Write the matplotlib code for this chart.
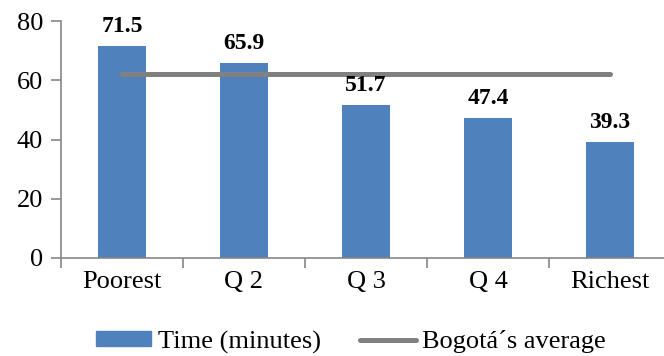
import matplotlib
matplotlib.use("Agg")
import matplotlib.pyplot as plt
from matplotlib.patches import Patch
from matplotlib.lines import Line2D

categories = ["Poorest", "Q 2", "Q 3", "Q 4", "Richest"]
time_minutes = [71.5, 65.9, 51.7, 47.4, 39.3]
bogota_average = [62.2, 62.2, 62.2, 62.2, 62.2]

plt.rcParams["font.family"] = ["Liberation Serif", "DejaVu Serif"]

bar_color = "#4F81BD"
avg_color = "#808080"
axis_color = "#868686"

fig = plt.figure(figsize=(6.64, 3.56), dpi=100)
ax = fig.add_axes([61 / 664, 1 - 258 / 356, 610 / 664, 237 / 356])

x = list(range(len(categories)))
bars = ax.bar(x, time_minutes, width=0.4, color=bar_color, zorder=2)
ax.plot(x, bogota_average, color=avg_color, linewidth=3.6,
        solid_capstyle="round", zorder=3)

# value labels on top of bars
for xi, v in zip(x, time_minutes):
    ax.annotate(f"{v}", (xi, v), xytext=(0, 6.5), textcoords="offset points",
                ha="center", va="bottom", fontsize=17, fontweight="bold")

ax.set_xlim(-0.5, len(categories) - 0.5)
ax.set_ylim(0, 80)
ax.set_yticks([0, 20, 40, 60, 80])

# category labels between boundary ticks
ax.set_xticks([i - 0.5 for i in range(len(categories) + 1)])
ax.set_xticklabels([])
ax.set_xticks(x, minor=True)
ax.set_xticklabels(categories, minor=True)
ax.tick_params(axis="x", which="minor", length=0, pad=9, labelsize=19)
ax.tick_params(axis="x", which="major", length=7, color=axis_color, width=1.2)
ax.tick_params(axis="y", length=7, color=axis_color, width=1.2, pad=6,
               labelsize=19)

for side in ["top", "right"]:
    ax.spines[side].set_visible(False)
for side in ["left", "bottom"]:
    ax.spines[side].set_color(axis_color)
    ax.spines[side].set_linewidth(1.2)

handles = [Patch(color=bar_color, label="Time (minutes)"),
           Line2D([0], [0], color=avg_color, linewidth=3.6,
                  solid_capstyle="round", label="Bogotá´s average")]
fig.legend(handles=handles, loc="center", bbox_to_anchor=(351 / 664, 1 - 342 / 356),
           ncol=2, frameon=False, fontsize=19, handlelength=2.1,
           handleheight=0.5, handletextpad=0.25, columnspacing=1.5,
           borderpad=0, borderaxespad=0)

fig.savefig("out.png", dpi=100)
